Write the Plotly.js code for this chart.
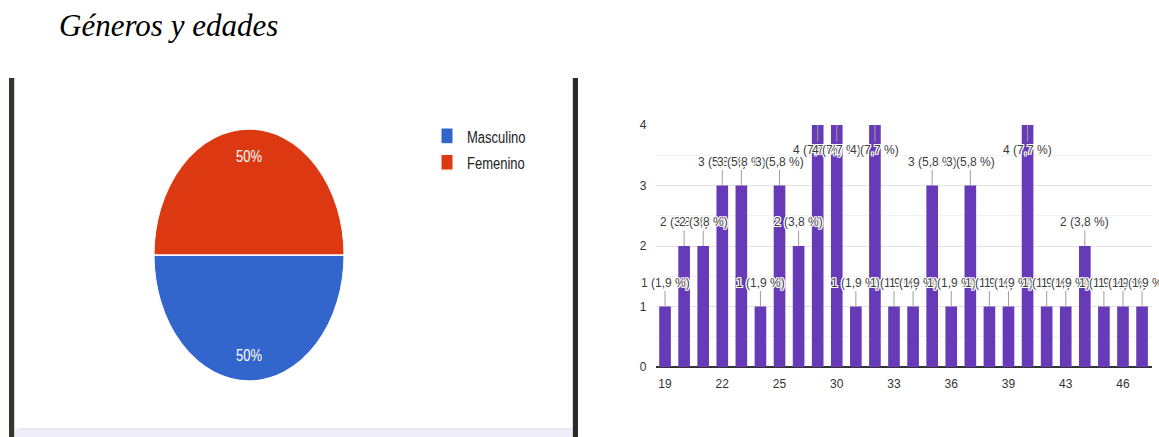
<!DOCTYPE html>
<html>
<head>
<meta charset="utf-8">
<script src="https://cdn.plot.ly/plotly-3.0.1.min.js"></script>
<style>
  html, body { margin: 0; padding: 0; background: #ffffff; overflow: hidden; }
  #wrap { position: relative; width: 1159px; height: 437px; }
  #main { position: absolute; left: 0; top: 0; width: 1159px; height: 437px; }
  #pie { position: absolute; left: 0; top: 0; width: 590px; height: 330px;
         transform: scaleY(1.326); transform-origin: 0 0; }
</style>
</head>
<body>
<div id="wrap">
  <div id="main"></div>
  <div id="pie"></div>
</div>
<script>
// ---- data ----
const chartTitle = "Géneros y edades";
const genderLabels = ["Masculino", "Femenino"];
const genderCounts = [26, 26];
const genderColors = ["#3366cc", "#dc3912"];

const ages = ["19","20","21","22","23","24","25","27","28","30","31","32","33",
              "34","35","36","37","38","39","40","41","43","44","45","46","47"];
const ageCounts = [1,2,2,3,3,1,3,2,4,4,1,4,1,1,3,1,3,1,1,4,1,1,2,1,1,1];
const yTicks = [0, 1, 2, 3, 4];

// ---- helpers ----
const W = 1159, H = 437;
const px = x => x / W;
const py = y => 1 - y / H;
const total = ageCounts.reduce((a, b) => a + b, 0);
const fmtPct = v => (v / total * 100).toFixed(1).replace(".", ",") + " %";
const tickIdx = ages.map((_, i) => i).filter(i => i % 3 === 0);
const yMax = Math.max(...yTicks);

// ---- bar chart + page decorations ----
const barTrace = {
  type: "bar",
  x: ages.map((_, i) => i),
  y: ageCounts,
  marker: { color: "#673ab7" },
  hoverinfo: "none",
  cliponaxis: false
};

const halo = "1px 0 0 #fff, -1px 0 0 #fff, 0 1px 0 #fff, 0 -1px 0 #fff, 1px 1px 0 #fff, -1px -1px 0 #fff, 1px -1px 0 #fff, -1px 1px 0 #fff";
const annotations = ages.map((a, i) => {
  const v = ageCounts[i];
  const atTop = v >= yMax;
  return {
    x: i, y: v, xref: "x", yref: "y",
    text: v + " (" + fmtPct(v) + ")",
    showarrow: true, arrowhead: 0, arrowwidth: 1, arrowcolor: "#9e9e9e",
    standoff: 0, startstandoff: 0,
    ax: 0, ay: atTop ? 25 : -24,
    font: { family: "Liberation Sans, Arial, sans-serif", size: 12, color: "#3c3c3c", shadow: halo }
  };
});

const shapes = [
  { type: "rect", xref: "paper", yref: "paper", x0: px(9), x1: px(14), y0: py(437), y1: py(78),
    fillcolor: "#3a332c", line: { width: 0 }, layer: "below" },
  { type: "rect", xref: "paper", yref: "paper", x0: px(14), x1: px(15), y0: py(437), y1: py(78),
    fillcolor: "#cfcfd8", line: { width: 0 }, layer: "below" },
  { type: "rect", xref: "paper", yref: "paper", x0: px(573), x1: px(578), y0: py(437), y1: py(78),
    fillcolor: "#2e2a26", line: { width: 0 }, layer: "below" },
  { type: "rect", xref: "paper", yref: "paper", x0: px(572), x1: px(573), y0: py(437), y1: py(78),
    fillcolor: "#d4d4dc", line: { width: 0 }, layer: "below" },
  { type: "rect", xref: "paper", yref: "paper", x0: px(15), x1: px(572), y0: py(437), y1: py(429),
    fillcolor: "#eeedf8", line: { width: 0 }, layer: "below" },
  { type: "rect", xref: "paper", yref: "paper", x0: px(19), x1: px(572), y0: py(429.5), y1: py(428.5),
    fillcolor: "#dcdbe8", line: { width: 0 }, layer: "below" }
];

const mainLayout = {
  width: W, height: H,
  margin: { l: 0, r: 0, t: 0, b: 0 },
  paper_bgcolor: "#ffffff",
  plot_bgcolor: "#ffffff",
  showlegend: false,
  title: {
    text: chartTitle,
    xref: "paper", yref: "container",
    x: px(59), xanchor: "left",
    y: 1 - 25 / H, yanchor: "middle",
    font: { family: "Liberation Serif, 'Times New Roman', serif", style: "italic", size: 31, color: "#000" }
  },
  bargap: 0.39,
  xaxis: {
    domain: [px(655.5), px(1151.6)],
    range: [-0.5, ages.length - 0.5],
    tickvals: tickIdx,
    ticktext: tickIdx.map(i => ages[i]),
    showgrid: false,
    showline: false,
    zeroline: false,
    ticks: "",
    tickfont: { family: "Liberation Sans, Arial, sans-serif", size: 12, color: "#333" },
    ticklabelstandoff: 8,
    fixedrange: true
  },
  yaxis: {
    domain: [1 - 367 / H, 1 - 125 / H],
    range: [0, yMax],
    tickvals: yTicks,
    showgrid: true,
    gridcolor: "#e3e3e3",
    gridwidth: 1,
    minor: { dtick: 0.5, showgrid: true, gridcolor: "#f2f2f2", gridwidth: 1 },
    zeroline: true,
    zerolinecolor: "#333333",
    zerolinewidth: 1.5,
    showline: false,
    ticks: "",
    tickfont: { family: "Liberation Sans, Arial, sans-serif", size: 12, color: "#333" },
    ticklabelstandoff: 8,
    fixedrange: true
  },
  annotations: annotations,
  shapes: shapes
};

Plotly.newPlot("main", [barTrace], mainLayout, { staticPlot: true, displayModeBar: false });

// ---- pie (drawn at native size, stretched vertically like the reference screenshot) ----
const PW = 590, PH = 330;
const cx = 249, cyN = 192.3, r = 95;
const gTotal = genderCounts.reduce((a, b) => a + b, 0);
const pieTrace = {
  type: "pie",
  labels: genderLabels,
  values: genderCounts,
  marker: { colors: genderColors, line: { color: "#ffffff", width: 1 } },
  sort: false,
  direction: "counterclockwise",
  rotation: 90,
  textinfo: "none",
  hoverinfo: "none",
  domain: { x: [(cx - r) / PW, (cx + r) / PW], y: [(PH - cyN - r) / PH, (PH - cyN + r) / PH] }
};
// slice labels: blue (first) is the lower half, red (second) the upper half
const pieAnn = genderCounts.map((v, i) => ({
  xref: "paper", yref: "paper",
  x: cx / PW,
  y: (PH - cyN + (i === 0 ? -1 : 1) * 0.79 * r) / PH,
  text: Math.round(v / gTotal * 100) + "%",
  showarrow: false,
  xanchor: "center", yanchor: "middle",
  font: { family: "Liberation Sans, Arial, sans-serif", size: 13, color: "#ffffff" }
}));
const pieLayout = {
  width: PW, height: PH,
  margin: { l: 0, r: 0, t: 0, b: 0 },
  paper_bgcolor: "rgba(0,0,0,0)",
  showlegend: true,
  annotations: pieAnn,
  legend: {
    x: 427 / PW, xanchor: "left",
    y: 1 - 87.5 / PH, yanchor: "top",
    bgcolor: "rgba(0,0,0,0)",
    font: { family: "Liberation Sans, Arial, sans-serif", size: 13, color: "#222" },
    tracegroupgap: 0
  }
};
Plotly.newPlot("pie", [pieTrace], pieLayout, { staticPlot: true, displayModeBar: false });
</script>
</body>
</html>
